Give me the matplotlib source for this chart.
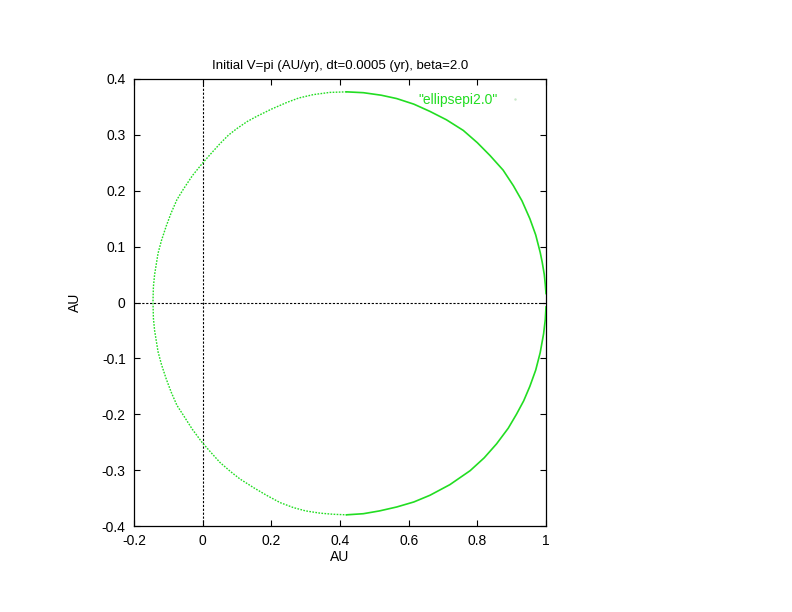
import matplotlib
matplotlib.use('Agg')
import matplotlib.pyplot as plt
from matplotlib.lines import Line2D

# ── Orbit points (AU) ──────────────────────────────────────
# starts at (1, 0) and goes round counter-clockwise
orbit_x = [1.000, 0.998, 0.995, 0.989, 0.983, 0.970, 0.953, 0.930, 0.905,
           0.875, 0.837, 0.800, 0.759, 0.710, 0.662, 0.615, 0.565, 0.520,
           0.468, 0.419, 0.370, 0.322, 0.280, 0.245, 0.200, 0.157, 0.130,
           0.099, 0.075, 0.050, 0.025, -0.001, -0.030, -0.056, -0.075, -0.092,
           -0.106, -0.120, -0.130, -0.140, -0.1435, -0.1447,
           -0.1435, -0.140, -0.130, -0.120, -0.106, -0.092, -0.075, -0.056,
           -0.030, -0.001, 0.025, 0.050, 0.080, 0.109, 0.150, 0.186, 0.225,
           0.264, 0.300, 0.342, 0.380, 0.419, 0.468, 0.515, 0.565, 0.615,
           0.662, 0.720, 0.779, 0.820, 0.856, 0.890, 0.914, 0.935, 0.953,
           0.970, 0.983, 0.993, 0.998, 1.000]
orbit_y = [0.016, 0.032, 0.050, 0.072, 0.090, 0.121, 0.150, 0.182, 0.209,
           0.237, 0.263, 0.286, 0.308, 0.327, 0.342, 0.355, 0.365, 0.371,
           0.3755, 0.377, 0.376, 0.372, 0.366, 0.358, 0.346, 0.333, 0.324,
           0.311, 0.2995, 0.284, 0.267, 0.249, 0.227, 0.203, 0.184, 0.160,
           0.137, 0.111, 0.088, 0.050, 0.028, 0.002,
           -0.028, -0.050, -0.088, -0.111, -0.137, -0.160, -0.184, -0.202,
           -0.227, -0.251, -0.269, -0.286, -0.302, -0.316, -0.332, -0.345,
           -0.358, -0.367, -0.373, -0.377, -0.379, -0.380, -0.378, -0.373,
           -0.366, -0.357, -0.345, -0.326, -0.301, -0.278, -0.253, -0.225,
           -0.200, -0.176, -0.150, -0.121, -0.090, -0.056, -0.030, -0.008]

x_ticks = [-0.2, 0, 0.2, 0.4, 0.6, 0.8, 1]
x_tick_labels = ['-0.2', '0', '0.2', '0.4', '0.6', '0.8', '1']
y_ticks = [-0.4, -0.3, -0.2, -0.1, 0, 0.1, 0.2, 0.3, 0.4]
y_tick_labels = ['-0.4', '-0.3', '-0.2', '-0.1', '0', '0.1', '0.2', '0.3', '0.4']

GREEN = '#22dd22'

plt.rcParams.update({
    'font.family': ['Liberation Sans', 'DejaVu Sans'],
    'font.size': 10,
})

fig = plt.figure(figsize=(7.92, 6.12), dpi=100)
ax = fig.add_axes([134 / 792, 86 / 612, 412 / 792, 447 / 612])

# zero axes
ax.axhline(0, color='black', linewidth=0.8, linestyle=(0, (2, 1.5)), zorder=1)
ax.axvline(0, color='black', linewidth=0.8, linestyle=(0, (2, 1.5)), zorder=1)

# fast (sparse dots) on the left half, slow (dense) on the right half
top = orbit_x.index(0.419)
bot = len(orbit_x) - 1 - orbit_x[::-1].index(0.419)
ax.plot(orbit_x[:top + 1], orbit_y[:top + 1], color=GREEN, linewidth=1.2, zorder=3)
ax.plot(orbit_x[top:bot + 1], orbit_y[top:bot + 1], color=GREEN, linewidth=1.0,
        linestyle=(0, (1.2, 1.0)), zorder=3)
ax.plot(orbit_x[bot:], orbit_y[bot:], color=GREEN, linewidth=1.2, zorder=3)

ax.set_xlim(-0.2, 1.0)
ax.set_ylim(-0.4, 0.4)
ax.set_xticks(x_ticks)
ax.set_xticklabels(x_tick_labels)
ax.set_yticks(y_ticks)
ax.set_yticklabels(y_tick_labels)
ax.tick_params(direction='in', length=4.5, width=0.8, top=True, right=True,
               pad=6, labelsize=10)
for s in ax.spines.values():
    s.set_linewidth(0.9)

ax.set_xlabel('AU', labelpad=1)
ax.set_ylabel('AU', labelpad=14)
ax.set_title('Initial V=pi (AU/yr), dt=0.0005 (yr), beta=2.0', fontsize=9.5, pad=7)

key = Line2D([], [], color='#c8e8c8', marker='.', markersize=1.5, linestyle='none')
ax.legend([key], ['"ellipsepi2.0"'], loc='upper right', markerfirst=False,
          frameon=False, bbox_to_anchor=(0.9655, 0.99), handlelength=1.0,
          handletextpad=0.79, borderaxespad=0.3, labelcolor=GREEN, fontsize=10)

fig.savefig('out.png', dpi=100)
